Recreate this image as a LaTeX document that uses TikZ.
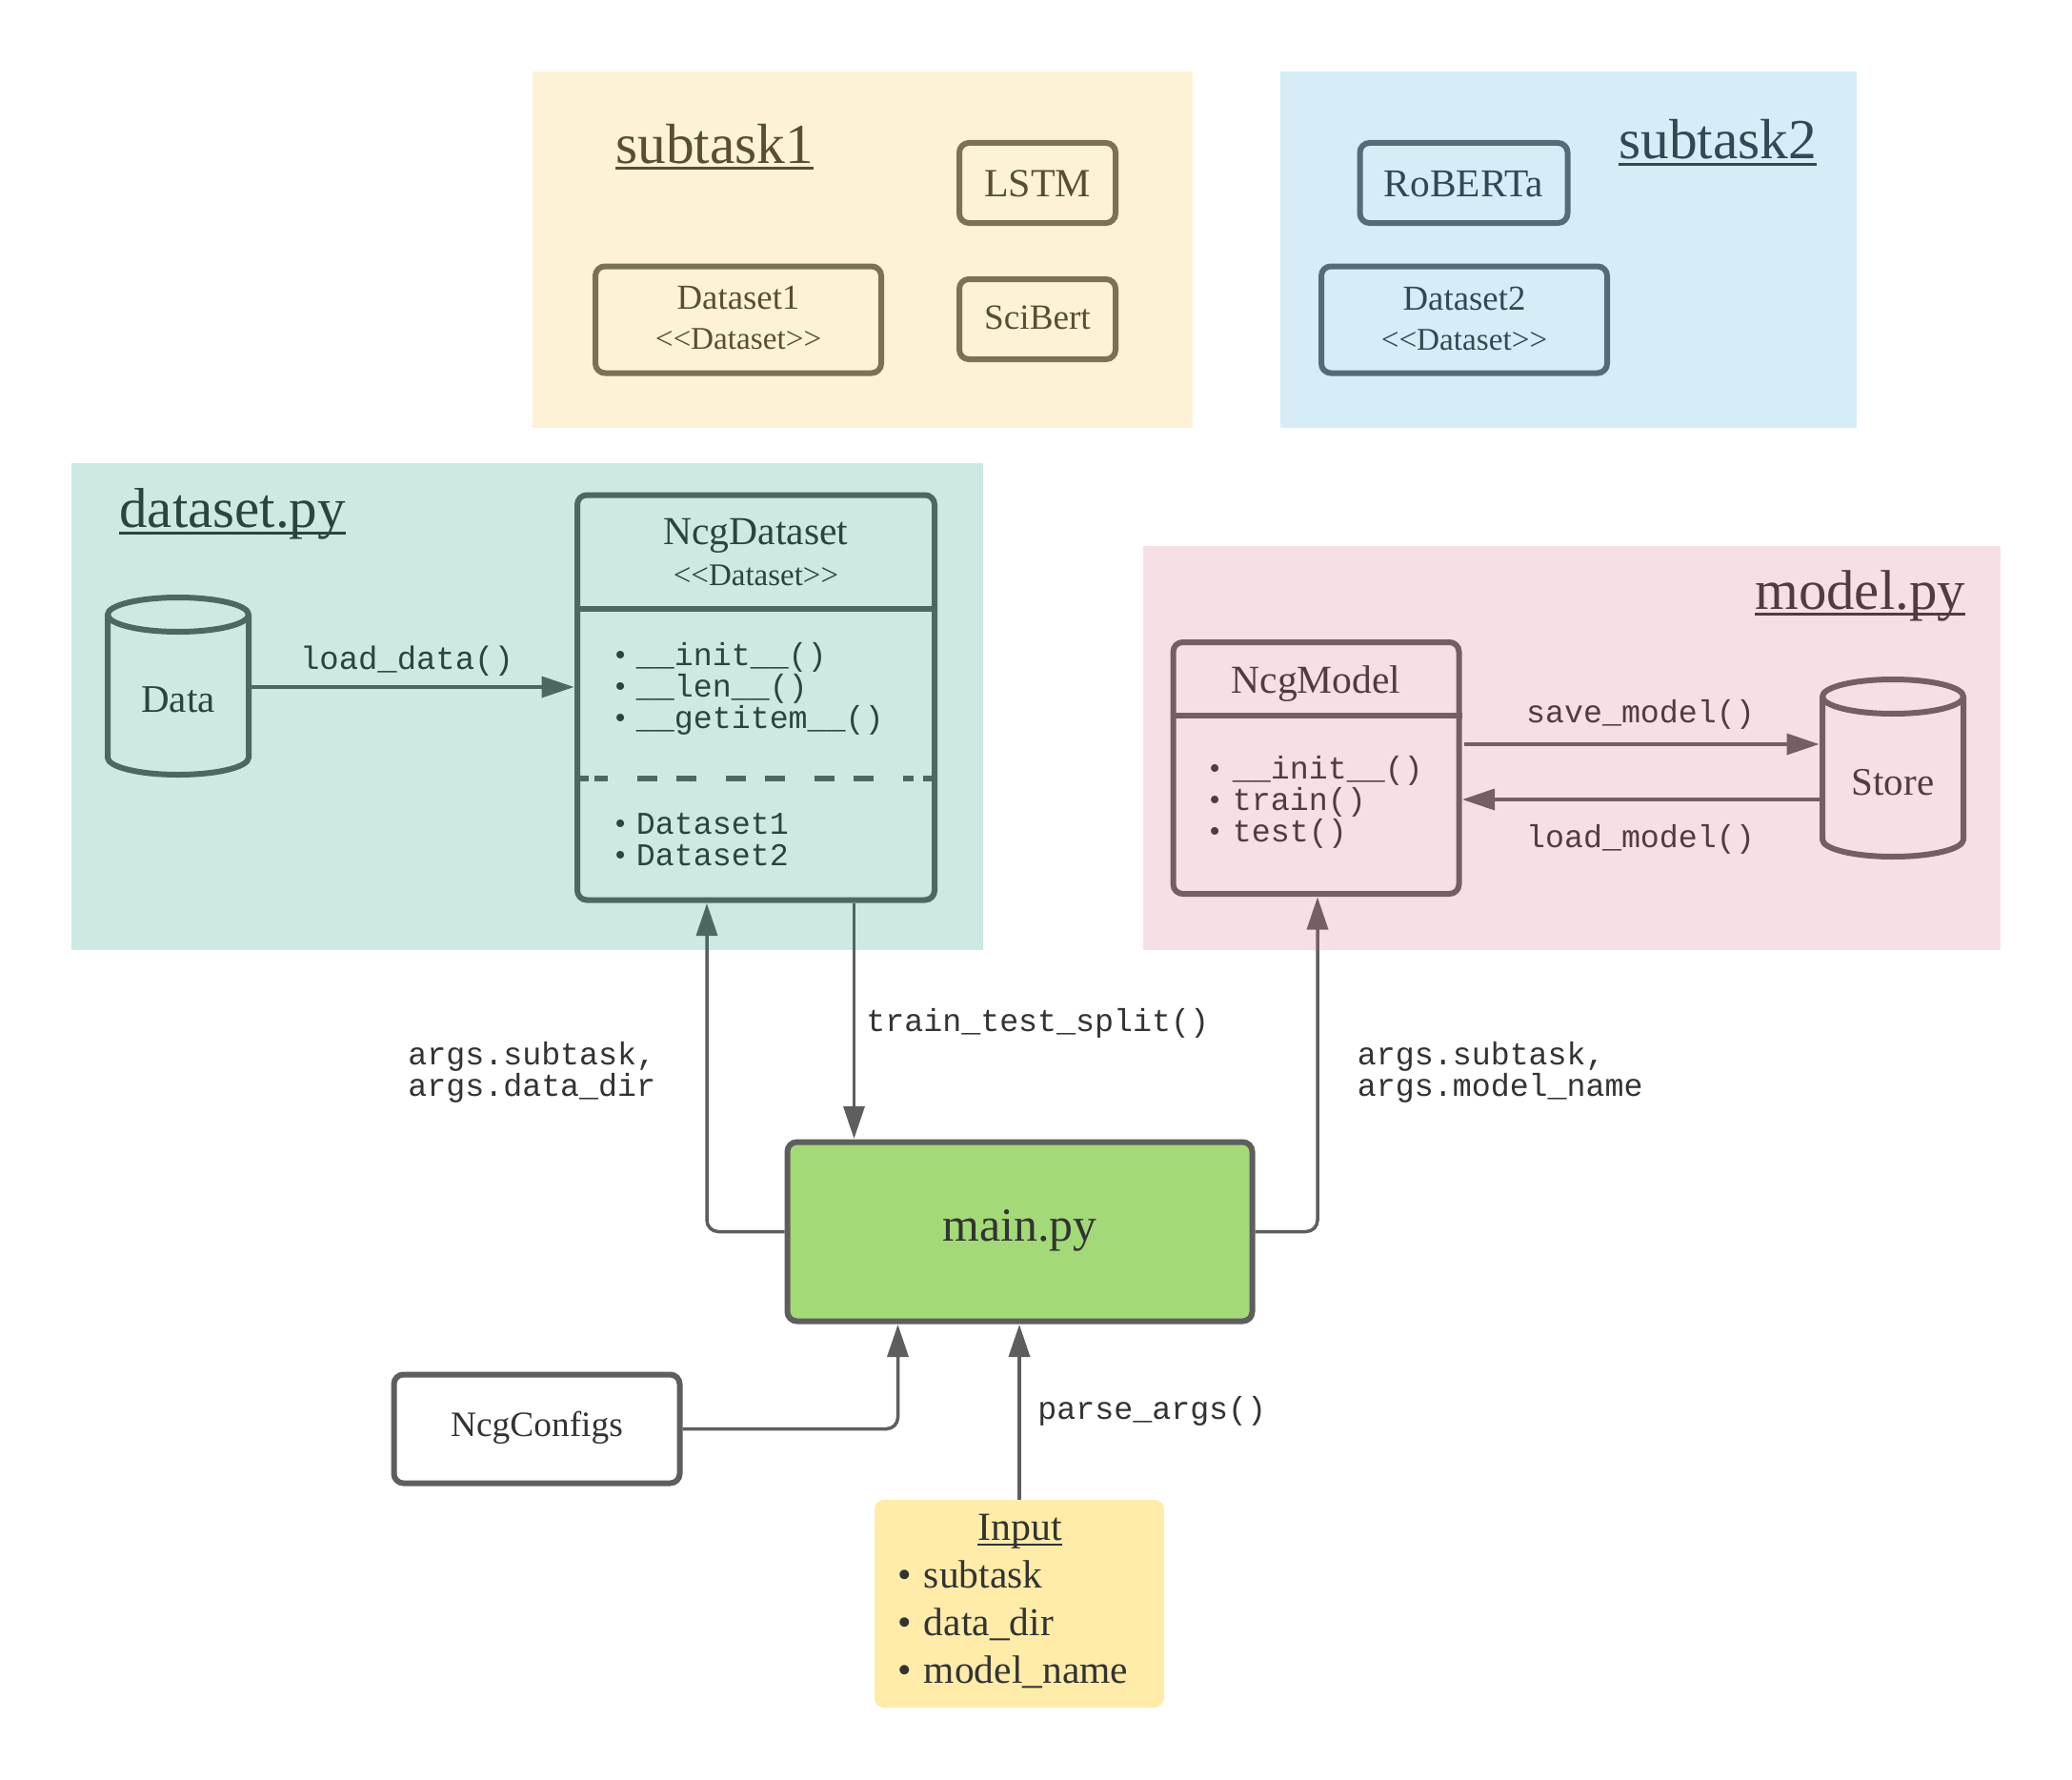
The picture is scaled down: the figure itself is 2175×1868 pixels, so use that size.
\documentclass[tikz,border=0pt]{standalone}
\usepackage{fontspec}
\setmainfont{Liberation Serif}
\newfontfamily\mon{Liberation Mono}
\usetikzlibrary{arrows.meta}
\definecolor{ink}{HTML}{333333}
\definecolor{edge}{HTML}{5E5E5E}
\definecolor{pcream}{RGB}{250,190,50}
\definecolor{pblue}{RGB}{50,165,220}
\definecolor{pteal}{RGB}{5,145,120}
\definecolor{ppink}{RGB}{215,95,130}
\definecolor{gmain}{HTML}{A3D977}
\definecolor{yinput}{HTML}{FFECA9}
\newcommand{\sr}[1]{\fontsize{#1pt}{#1pt}\selectfont}
\newcommand{\ulin}[3]{\setbox0=\hbox{#1}\rlap{\copy0}\raisebox{-#2}{\rule{\wd0}{#3}}}
\newcommand{\bul}[1]{\makebox[#1][l]{\rmfamily\textbullet}}
\tikzset{
  box/.style={draw=edge,line width=3pt,rounded corners=5pt,inner sep=0pt,text=ink,minimum width=#1},
  bl/.style={text height=#1,text depth=0pt},
  bla/.style={text height=0pt,text depth=#1},
  lbl/.style={inner sep=0pt,anchor=base,text=ink},
  lbw/.style={inner sep=0pt,anchor=base west,text=ink},
  monoT/.style={lbl,font=\mon\fontsize{16.65pt}{16.65pt}\selectfont},
  monoW/.style={lbw,font=\mon\fontsize{16.65pt}{16.65pt}\selectfont},
  cylbox/.style={inner sep=0pt,minimum width=74pt,minimum height=93pt,outer sep=0pt,text=ink,font=\sr{20.5}},
  conn/.style={draw=edge,line width=1.75pt,-{Triangle[length=17pt,width=11pt]},shorten >=0.25pt},
  turn/.style={rounded corners=6pt},
  panel/.style={inner sep=0pt,fill=#1,fill opacity=0.2},
}
\newcommand{\cyl}[1]{%
  \draw[edge,line width=3pt,line join=round]
    ([yshift=-9pt]#1.north west) arc (180:0:37pt and 9pt)
    -- ([yshift=9pt]#1.south east) arc (0:-180:37pt and 9pt) -- cycle;
  \draw[edge,line width=3pt] ([yshift=-9pt]#1.north west) arc (180:360:37pt and 9pt);}
\begin{document}
\begin{tikzpicture}[x=0.5pt,y=-0.5pt]
\useasboundingbox (0,0) rectangle (2175,1868);
\fill[white] (0,0) rectangle (2175,1868);

% subtask1 contents
\node[lbw,font=\sr{29.7}] (t1) at (646,171) {\ulin{subtask1}{3.5pt}{1.5pt}};
\node[box=82pt,minimum height=42pt,bl=14pt,font=\sr{21}] (lstm) at (1089,192) {LSTM};
\node[box=82pt,minimum height=42pt,bl=10pt,font=\sr{18.6}] (sci) at (1089,335) {SciBert};
\node[box=150pt,minimum height=56pt,bla=11pt,font=\sr{18.4}] (ds1) at (775,335.5) {Dataset1};
\node[lbl,font=\sr{16.6}] (ds1s) at (775,366) {<{}<Dataset>{}>};

% subtask2 contents
\node[lbw,font=\sr{29.7}] (t2) at (1699,167) {\ulin{subtask2}{3.5pt}{1.5pt}};
\node[box=109pt,minimum height=42pt,bl=14pt,font=\sr{20.7}] (rob) at (1536.5,192) {RoBERTa};
\node[box=150pt,minimum height=56pt,bla=10pt,font=\sr{18.4}] (ds2) at (1537,335.5) {Dataset2};
\node[lbl,font=\sr{16.6}] (ds2s) at (1537,367) {<{}<Dataset>{}>};

% dataset.py contents
\node[lbw,font=\sr{29.5}] (t3) at (125,553) {\ulin{dataset.py}{3.75pt}{1.5pt}};
\node[cylbox] (data) at (187,720) [bl=27pt] {Data};
\cyl{data}
\node[box=187.5pt,minimum height=212.5pt] (ncgd) at (793.5,732) {};
\node[lbl,font=\sr{20.8}] (ncgdt) at (793.5,571.5) {NcgDataset};
\node[lbl,font=\sr{16.5}] (ncgds) at (793.5,614.5) {<{}<Dataset>{}>};
\draw[edge,line width=3pt] ([yshift=-61pt]ncgd.north west) -- ([yshift=-61pt]ncgd.north east);
\draw[edge,line width=3pt,dash pattern=on 7.5pt off 3pt on 7pt off 15.5pt on 10.5pt off 10pt on 10.5pt off 15.5pt on 10.5pt off 10pt on 10.5pt off 15.5pt on 10.5pt off 10pt on 10.5pt off 15.5pt on 5.5pt off 5pt on 6pt off 50pt]
  ([yshift=-150.25pt]ncgd.north west) -- ([yshift=-150.25pt]ncgd.north east);
\node[monoW] (m1) at (645,698) {\bul{11.25pt}\_\_init\_\_()};
\node[monoW] (m2) at (645,731) {\bul{11.25pt}\_\_len\_\_()};
\node[monoW] (m3) at (645,764) {\bul{11.25pt}\_\_getitem\_\_()};
\node[monoW] (d1) at (645,875) {\bul{11.25pt}Dataset1};
\node[monoW] (d2) at (645,908) {\bul{11.25pt}Dataset2};
\node[monoT,font=\mon\fontsize{16.95pt}{16.95pt}\selectfont] (ll) at (427,702) {load\_data()};

% model.py contents
\node[lbw,font=\sr{29.4}] (t4) at (1842,639) {\ulin{model.py}{3.25pt}{1.5pt}};
\node[box=150pt,minimum height=132pt] (ncgm) at (1381.5,806) {};
\node[lbl,font=\sr{20.8}] (ncgmt) at (1381.5,727) {NcgModel};
\draw[edge,line width=3pt] ([yshift=-40pt]ncgm.north west) -- ([yshift=-40pt]ncgm.north east);
\node[monoW] (n1) at (1269,817) {\bul{12.25pt}\_\_init\_\_()};
\node[monoW] (n2) at (1269,850) {\bul{12.25pt}train()};
\node[monoW] (n3) at (1269,883) {\bul{12.25pt}test()};
\node[cylbox] (store) at (1987,806) [bl=28pt] {Store};
\cyl{store}
\node[monoT] (sl) at (1722,758) {save\_model()};
\node[monoT] (ml) at (1722,889) {load\_model()};

% main and below
\node[box=244pt,minimum height=94pt,bl=9.5pt,fill=gmain,font=\sr{24.9}] (main) at (1070.5,1292.5) {main.py};
\node[box=150pt,minimum height=57pt,bl=8pt,font=\sr{18.7}] (cfg) at (563.5,1499.5) {NcgConfigs};
\node[fill=yinput,rounded corners=5pt,inner sep=0pt,minimum width=152pt,minimum height=109pt] (input) at (1070,1683) {};
\node[lbl,font=\sr{20.9}] (it) at (1070.5,1616) {\ulin{Input}{3pt}{1pt}};
\node[lbw,font=\sr{20.75}] (i1) at (942,1666) {\bul{13.75pt}subtask};
\node[lbw,font=\sr{20.75}] (i2) at (942,1716) {\bul{13.75pt}data\_dir};
\node[lbw,font=\sr{20.75}] (i3) at (942,1766) {\bul{13.75pt}model\_name};
\node[monoW] (ttl) at (909,1082) {train\_test\_split()};
\node[monoW] (a1) at (428,1117) {args.subtask,};
\node[monoW] (a2) at (428,1150) {args.data\_dir};
\node[monoW] (b1) at (1424.5,1117) {args.subtask,};
\node[monoW] (b2) at (1424.5,1150) {args.model\_name};
\node[monoW] (pl) at (1089,1489) {parse\_args()};

% connectors
\draw[conn] ([yshift=-0.5pt]data.east) -- ([yshift=-0.5pt]data.east -| ncgd.west);
\draw[conn,shorten <=1pt] ([yshift=12.5pt]ncgm.east) -- ([yshift=12.5pt,xshift=-1.5pt]store.west);
\draw[conn] ([yshift=-16.5pt,xshift=-1.5pt]store.west) -- ([yshift=-16.5pt]ncgm.east);
\draw[conn,turn] (main.west) -| ([xshift=-25.75pt]ncgd.south);
\draw[conn] ([xshift=51.5pt]ncgd.south) -- ([xshift=51.5pt]ncgd.south |- main.north);
\draw[conn,turn] (main.east) -| ([xshift=0.75pt]ncgm.south);
\draw[conn,turn] (cfg.east) -| ([xshift=-64pt]main.south);
\draw[conn] (input.north) -- (input.north |- main.south);

% translucent panels, laid over their contents
\node[panel=pcream,minimum width=346.5pt,minimum height=187pt] (psub1) at (905.5,262) {};
\node[panel=pblue,minimum width=302.5pt,minimum height=187pt] (psub2) at (1646.5,262) {};
\node[panel=pteal,minimum width=478.5pt,minimum height=255.5pt] (pdata) at (553.5,741.25) {};
\node[panel=ppink,minimum width=450pt,minimum height=212pt] (pmodel) at (1650,784.75) {};
\end{tikzpicture}
\end{document}
